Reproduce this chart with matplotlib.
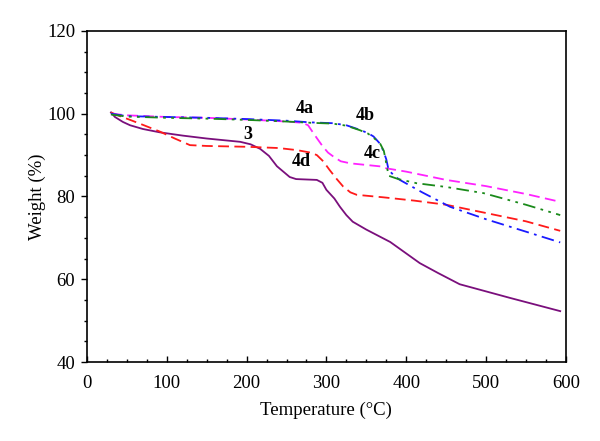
import matplotlib
matplotlib.use("Agg")
import matplotlib.pyplot as plt
from matplotlib.ticker import MultipleLocator

# Curve 3 (purple solid)
t_3 = [30, 35, 45, 54, 70, 91, 120, 150, 192, 205, 217, 228, 238, 246, 254, 262, 275, 288, 295, 300,
       310, 317, 325, 333, 350, 380, 417, 440, 467, 530, 593]
w_3 = [100.3, 99.2, 98.0, 97.2, 96.3, 95.5, 94.7, 94.0, 93.2, 92.6, 91.5, 89.8, 87.3, 86.0, 84.7, 84.2,
       84.1, 84.0, 83.3, 81.6, 79.5, 77.5, 75.5, 73.9, 72.0, 69.0, 63.9, 61.5, 58.8, 55.5, 52.3]

# Red dashed
t_red = [30, 40, 54, 70, 91, 110, 129, 150, 200, 240, 263, 280, 288, 296, 304, 313, 321, 330, 338,
         371, 410, 450, 500, 550, 593]
w_red = [100.3, 99.5, 98.5, 97.3, 95.7, 94.0, 92.4, 92.2, 92.0, 91.7, 91.2, 90.6, 90.0, 88.5, 86.4,
         84.2, 82.4, 81.0, 80.4, 79.8, 79.0, 78.0, 76.0, 74.0, 71.7]

# Magenta dashed
t_mag = [30, 50, 100, 150, 200, 250, 270, 277, 283, 288, 295, 302, 309, 318, 330, 371, 375, 400,
         450, 500, 550, 593]
w_mag = [100.0, 99.6, 99.2, 99.0, 98.6, 98.1, 97.8, 97.2, 95.5, 94.1, 92.2, 90.6, 89.6, 88.5, 88.0,
         87.2, 86.8, 86.0, 84.0, 82.5, 80.6, 78.7]

# Blue dash-dot
t_blue = [30, 50, 100, 150, 200, 250, 280, 308, 325, 342, 352, 359, 366, 371, 375, 378, 385, 392,
          420, 455, 500, 550, 593]
w_blue = [100.0, 99.4, 99.2, 99.0, 98.7, 98.3, 97.9, 97.7, 97.2, 96.1, 95.3, 94.5, 93.0, 91.2, 89.0,
          86.4, 85.0, 84.0, 81.0, 77.5, 74.5, 71.5, 68.9]

# Green dash-dot-dot
t_green = [30, 50, 100, 150, 200, 250, 280, 308, 325, 342, 352, 359, 367, 372, 375, 378, 390, 413,
           450, 497, 550, 593]
w_green = [99.8, 99.3, 99.0, 98.8, 98.5, 98.1, 97.8, 97.6, 97.1, 96.0, 95.2, 94.2, 92.9, 91.0, 88.0,
           85.0, 84.2, 83.2, 82.3, 80.8, 78.0, 75.5]

labels = ["3", "4a", "4b", "4c", "4d"]
label_t = [201, 273, 349, 357, 269]
label_w = [95.0, 101.2, 99.6, 90.4, 88.4]

plt.rcParams['font.family'] = ['Liberation Serif', 'DejaVu Serif']

fig = plt.figure(figsize=(6, 4.41), dpi=100)
ax = fig.add_axes([0.145, 0.179, 0.798, 0.751])

ax.plot(t_3, w_3, color='#7a0f7c', lw=1.3, ls='-')
ax.plot(t_red, w_red, color='#ff1a1a', lw=1.3, ls=(0, (6, 3)))
ax.plot(t_mag, w_mag, color='#ff22ff', lw=1.3, ls=(0, (6, 3)))
ax.plot(t_blue, w_blue, color='#1a1aff', lw=1.3, ls=(0, (7, 3, 1.5, 3)))
ax.plot(t_green, w_green, color='#1a8a1a', lw=1.3, ls=(0, (7, 3, 1.5, 3, 1.5, 3)))

for lab, tx, wy in zip(labels, label_t, label_w):
    ax.text(tx, wy, lab, fontsize=13, fontweight='bold', ha='center', va='center')

ax.set_xlim(0, 600)
ax.set_ylim(40, 120)
ax.xaxis.set_major_locator(MultipleLocator(100))
ax.xaxis.set_minor_locator(MultipleLocator(25))
ax.yaxis.set_major_locator(MultipleLocator(20))
ax.yaxis.set_minor_locator(MultipleLocator(5))
ax.tick_params(axis='x', which='major', direction='in', length=4, width=1, labelsize=13.5, pad=9)
ax.tick_params(axis='x', which='minor', direction='in', length=2.5, width=1)
ax.tick_params(axis='y', which='major', direction='out', length=4.5, width=1, labelsize=13.5, pad=4)
ax.tick_params(axis='y', which='minor', direction='out', length=2.5, width=1)
for s in ax.spines.values():
    s.set_linewidth(1.2)

ax.set_xlabel('Temperature (°C)', fontsize=13.5, labelpad=7)
ax.set_ylabel('Weight (%)', fontsize=13.5, labelpad=1)

fig.savefig('out.png', dpi=100)
